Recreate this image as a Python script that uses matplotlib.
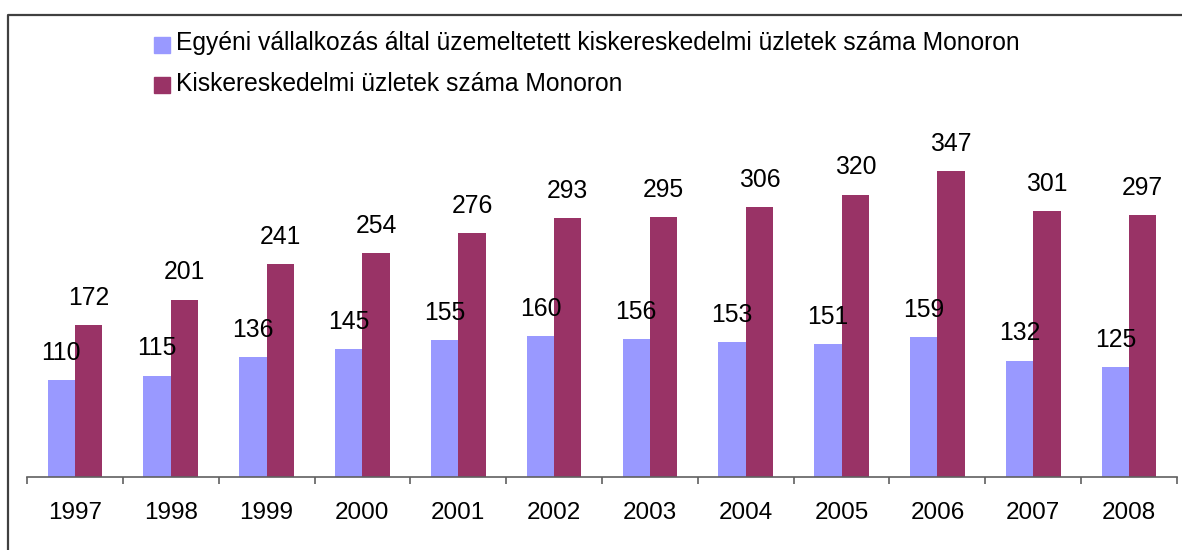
import matplotlib
matplotlib.use('Agg')
import matplotlib.pyplot as plt
from matplotlib.lines import Line2D
from matplotlib.patches import Rectangle
import numpy as np

years = ['1997', '1998', '1999', '2000', '2001', '2002',
         '2003', '2004', '2005', '2006', '2007', '2008']
egyeni = [110, 115, 136, 145, 155, 160, 156, 153, 151, 159, 132, 125]
osszes = [172, 201, 241, 254, 276, 293, 295, 306, 320, 347, 301, 297]
labels = ['Egyéni vállalkozás által üzemeltetett kiskereskedelmi üzletek száma Monoron',
          'Kiskereskedelmi üzletek száma Monoron']
colors = ['#9999FF', '#993366']

plt.rcParams['font.family'] = ['Liberation Sans', 'DejaVu Sans']

W, H = 1182, 550
fig = plt.figure(figsize=(W / 100, H / 100), dpi=100)


def fx(px):
    return px / W


def fy(py):
    return 1 - py / H


ax = fig.add_axes([fx(27), fy(477), fx(1177) - fx(27), fy(124) - fy(477)])
x = np.arange(len(years))
w = 0.286
b1 = ax.bar(x - w / 2, egyeni, w, color=colors[0])
b2 = ax.bar(x + w / 2, osszes, w, color=colors[1])

for bars, vals in [(b1, egyeni), (b2, osszes)]:
    for r, v in zip(bars, vals):
        ax.annotate(str(v), (r.get_x() + r.get_width() / 2, v),
                    xytext=(0, 14.5), textcoords='offset points',
                    ha='center', va='baseline', fontsize=17.8)

ax.set_xlim(-0.5, len(years) - 0.5)
ax.set_ylim(0, 400)
for s in ['top', 'right', 'left']:
    ax.spines[s].set_visible(False)
ax.spines['bottom'].set_color('#606060')
ax.spines['bottom'].set_linewidth(1.2)
ax.set_yticks([])
ax.set_xticks(np.arange(-0.5, len(years)), [''] * (len(years) + 1))
ax.tick_params(axis='x', which='major', length=5, width=1.2, color='#606060')
ax.set_xticks(x, years, minor=True)
ax.tick_params(axis='x', which='minor', length=0, pad=18, labelsize=17.5)

# legend
fig.patches.append(Rectangle((fx(154), fy(53)), fx(16), fy(37) - fy(53),
                             transform=fig.transFigure, color=colors[0]))
fig.patches.append(Rectangle((fx(154), fy(93)), fx(16), fy(77) - fy(93),
                             transform=fig.transFigure, color=colors[1]))
fig.text(fx(176), fy(50), labels[0], fontsize=17.7, va='baseline', ha='left')
fig.text(fx(176), fy(91), labels[1], fontsize=17.7, va='baseline', ha='left')

# outer frame (only top and left visible)
fig.lines.append(Line2D([fx(8), fx(8), 1], [0, fy(15), fy(15)],
                        transform=fig.transFigure, color='#404040', lw=1.6))

fig.savefig('out.png', dpi=100)
